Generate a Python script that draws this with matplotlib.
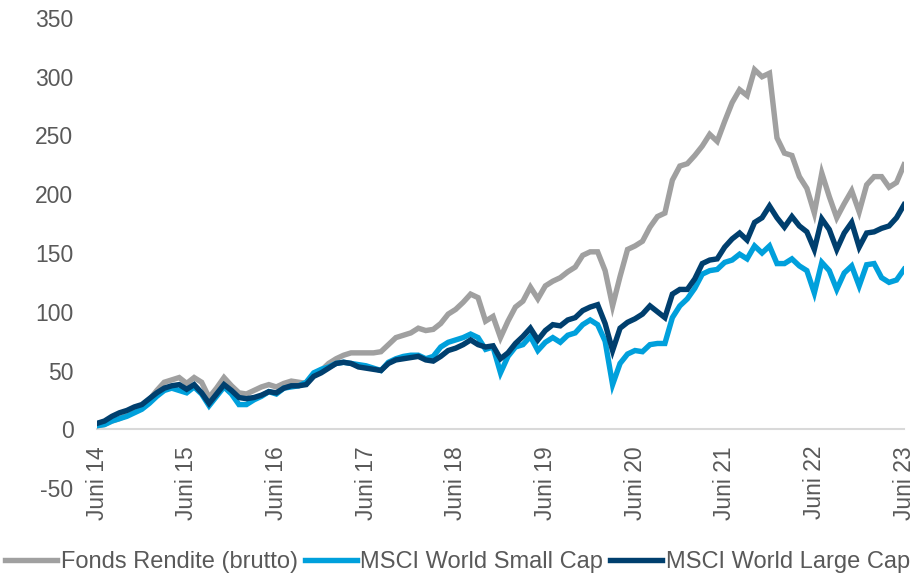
import numpy as np
import matplotlib
matplotlib.use('Agg')
import matplotlib.pyplot as plt

plt.rcParams['font.family'] = ['Liberation Sans', 'DejaVu Sans']

# Monatswerte Juni 2014 bis Juni 2023 (Wertentwicklung in %)
fonds = [3, 4, 7, 9, 12, 15, 19, 25, 33, 40,
         42, 44, 39, 44, 40, 27, 35, 44, 37, 31,
         30, 33, 36, 38, 36, 39, 41, 40, 39, 47,
         50, 56, 60, 63, 65, 65, 65, 65, 66, 72,
         78, 80, 82, 86, 84, 85, 90, 98, 102, 108,
         115, 112, 92, 96, 78, 92, 104, 109, 121, 111,
         122, 126, 129, 134, 138, 148, 151, 151, 135, 105,
         130, 153, 156, 160, 172, 181, 184, 212, 224, 226,
         233, 241, 251, 245, 262, 278, 289, 284, 306, 300,
         303, 248, 235, 233, 215, 205, 184, 218, 198, 180,
         192, 203, 185, 208, 215, 215, 206, 210, 225]

small_cap = [3, 4, 7, 9, 11, 14, 17, 22, 28, 33,
             35, 33, 31, 36, 30, 20, 28, 36, 30, 21,
             21, 25, 28, 32, 30, 35, 36, 37, 40, 48,
             51, 53, 56, 57, 56, 55, 54, 52, 50, 57,
             60, 62, 63, 63, 60, 62, 70, 74, 76, 78,
             81, 78, 68, 70, 48, 62, 70, 72, 79, 67,
             74, 78, 74, 80, 82, 89, 93, 89, 75, 38,
             56, 64, 67, 66, 72, 73, 73, 95, 105, 111,
             120, 132, 135, 136, 142, 144, 149, 145, 156, 150,
             156, 141, 141, 145, 139, 135, 116, 142, 135, 119,
             133, 139, 122, 140, 141, 129, 125, 127, 136]

large_cap = [5, 7, 11, 14, 16, 19, 21, 26, 31, 35,
             37, 38, 34, 38, 31, 22, 30, 38, 33, 27,
             26, 27, 29, 32, 31, 35, 37, 37, 38, 45,
             48, 52, 56, 57, 56, 53, 52, 51, 50, 56,
             59, 60, 61, 62, 59, 58, 62, 67, 69, 72,
             76, 72, 70, 71, 60, 65, 73, 79, 86, 76,
             84, 89, 88, 93, 95, 101, 104, 106, 90, 67,
             86, 91, 94, 98, 105, 100, 95, 115, 119, 119,
             128, 141, 144, 145, 155, 162, 167, 161, 176, 180,
             190, 180, 172, 181, 173, 168, 153, 179, 170, 153,
             167, 176, 155, 167, 168, 171, 173, 180, 191]

tick_labels = ['Juni 14', 'Juni 15', 'Juni 16', 'Juni 17', 'Juni 18',
               'Juni 19', 'Juni 20', 'Juni 21', 'Juni 22', 'Juni 23']
y_ticks = [-50, 0, 50, 100, 150, 200, 250, 300, 350]

text_col = '#595959'
fs = 16.5

fig = plt.figure(figsize=(9.15, 5.75), dpi=100)
ax = fig.add_axes([97 / 915, 1 - 488 / 575, 807 / 915, 470 / 575])

x = np.arange(len(fonds))
ax.plot(x, fonds, color='#A0A0A0', lw=3.9, label='Fonds Rendite (brutto)', solid_joinstyle='miter')
ax.plot(x, small_cap, color='#00A0DC', lw=3.9, label='MSCI World Small Cap', solid_joinstyle='miter')
ax.plot(x, large_cap, color='#003F6E', lw=3.9, label='MSCI World Large Cap', solid_joinstyle='miter')

ax.set_xlim(0, len(fonds) - 1)
ax.set_ylim(-50, 350)

# x-Achse liegt auf der Nulllinie
ax.spines['bottom'].set_position(('data', 0))
ax.spines['bottom'].set_color('#D9D9D9')
ax.spines['bottom'].set_linewidth(1.5)
ax.spines['bottom'].set_zorder(0)
for s in ['top', 'right', 'left']:
    ax.spines[s].set_visible(False)

ax.set_xticks(np.arange(0, len(fonds), 12))
ax.set_xticklabels(tick_labels, rotation=90, fontsize=fs, color=text_col)
ax.set_yticks(y_ticks)
ax.set_yticklabels([str(v) for v in y_ticks], fontsize=fs, color=text_col)
ax.tick_params(axis='x', length=0, pad=12)
ax.tick_params(axis='y', length=0, pad=17)

fig.legend(loc='center', bbox_to_anchor=(0.5, 1 - 562 / 575), ncol=3, frameon=False,
           fontsize=17, handlelength=2.2, handletextpad=0.15, columnspacing=0.3,
           borderpad=0, labelcolor=text_col)

fig.savefig('out.png', dpi=100)
